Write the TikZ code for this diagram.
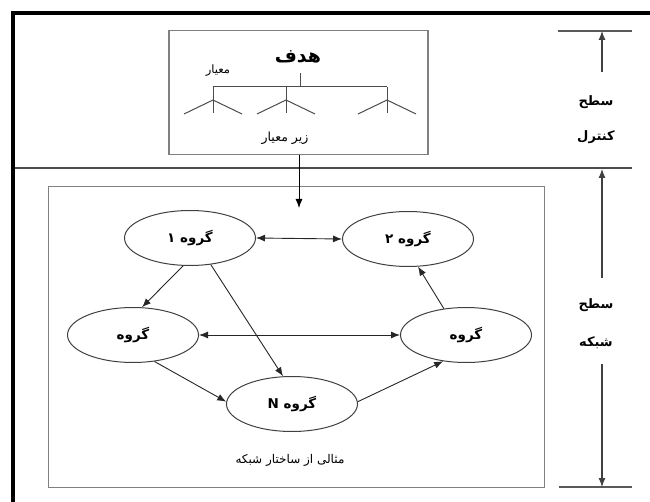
\documentclass[tikz,border=0pt]{standalone}
\usepackage{fontspec}
\newfontfamily\fa[Script=Arabic]{DejaVu Sans}
\TeXXeTstate=1
\usetikzlibrary{arrows.meta,shapes.geometric}
\begin{document}
\begin{tikzpicture}[x=1pt,y=-1pt,
  grp/.style={ellipse, draw=black!75, line width=1pt, minimum width=131pt, minimum height=55pt, inner sep=0pt, font=\fa\bfseries\fontsize{13.5}{15}\selectfont},
  box/.style={draw=black!50, line width=1.5pt, inner sep=0pt},
  arr/.style={-{Latex[length=9pt,width=7pt]}, line width=0.9pt, draw=black!85},
  barr/.style={{Latex[length=9pt,width=7pt]}-{Latex[length=9pt,width=7pt]}, line width=0.9pt, draw=black!85},
  tick/.style={draw=black!65, line width=1.4pt},
  dimarr/.style={-{Latex[length=9pt,width=7pt]}, line width=1.1pt, draw=black!75},
  lbl/.style={font=\fa\bfseries\fontsize{13}{15}\selectfont, inner sep=0pt},
  small/.style={font=\fa\fontsize{11.5}{13}\selectfont, inner sep=0pt},
  tree/.style={draw=black!70, line width=1pt}
]
\useasboundingbox (0,0) rectangle (650,502);
% outer frame
\draw[black, line width=4pt] (13,502) -- (13,13) -- (650,13);
% separator line
\draw[draw=black!70, line width=1.8pt] (15,168) -- (632,168);
% control box
\node[box, minimum width=259pt, minimum height=124pt] (ctrl) at (298.5,92.5) {};
% network box
\node[box, minimum width=496pt, minimum height=301pt] (net) at (296.5,337) {};
% tree
\node[font=\fa\bfseries\fontsize{19}{21}\selectfont, inner sep=0pt] (goal) at (298,57) {\beginR هدف\endR};
\node[small] (crit) at (218,71) {\beginR معیار\endR};
\draw[tree] (300,73) -- (300,87);
\draw[tree] (213,87) -- (387,87);
\foreach \x in {213,286,387} {
  \draw[tree] (\x,87) -- (\x,113);
  \draw[tree] (\x-29,114) -- (\x,100) -- (\x+29,114);
}
\node[font=\fa\fontsize{12.5}{14}\selectfont, inner sep=0pt] (sub) at (285,138) {\beginR زیر معیار\endR};
% arrow control -> network
\coordinate (netin) at (299,208);
\draw[arr, draw=black] (ctrl.south -| netin) -- (netin);
% groups
\node[grp] (g1) at (190,238) {\beginR گروه ۱\endR};
\node[grp] (g2) at (408,239) {\beginR گروه ۲\endR};
\node[grp] (gl) at (133,335) {\beginR گروه\endR};
\node[grp] (gr) at (466,335) {\beginR گروه\endR};
\node[grp] (gn) at (292,404) {\beginR گروه N\endR};
% connectors
\draw[barr] (g1.east) -- (g2.west);
\draw[barr] (gl.east) -- (gr.west);
\draw[arr] (g1.256) -- (gl.72);
\draw[arr] (g1.308) -- (gn.108);
\draw[arr] (gl.309) -- (gn.178);
\draw[arr] (gn.2) -- (gr.229);
\draw[arr] (gr.130) -- (g2.290);
\node[font=\fa\fontsize{12}{14}\selectfont, inner sep=0pt] (cap) at (290,460) {\beginR مثالی از ساختار شبکه\endR};
% right dimension
\coordinate (t1a) at (558,31); \coordinate (t1b) at (632,31);
\coordinate (t3a) at (559,487); \coordinate (t3b) at (632,487);
\draw[tick] (t1a) -- (t1b);
\draw[tick] (t3a) -- (t3b);
\coordinate (a1) at (602,72); \coordinate (a1t) at (602,31);
\coordinate (a2) at (602,278); \coordinate (a2t) at (602,169);
\coordinate (a3) at (602,364); \coordinate (a3t) at (602,487);
\draw[dimarr] (a1) -- (a1t);
\draw[dimarr] (a2) -- (a2t);
\draw[dimarr] (a3) -- (a3t);
\node[lbl] (l1) at (596,102) {\beginR سطح\endR};
\node[lbl] (l2) at (596,137) {\beginR کنترل\endR};
\node[lbl] (l3) at (596,305) {\beginR سطح\endR};
\node[lbl] (l4) at (596,343) {\beginR شبکه\endR};
\end{tikzpicture}
\end{document}
